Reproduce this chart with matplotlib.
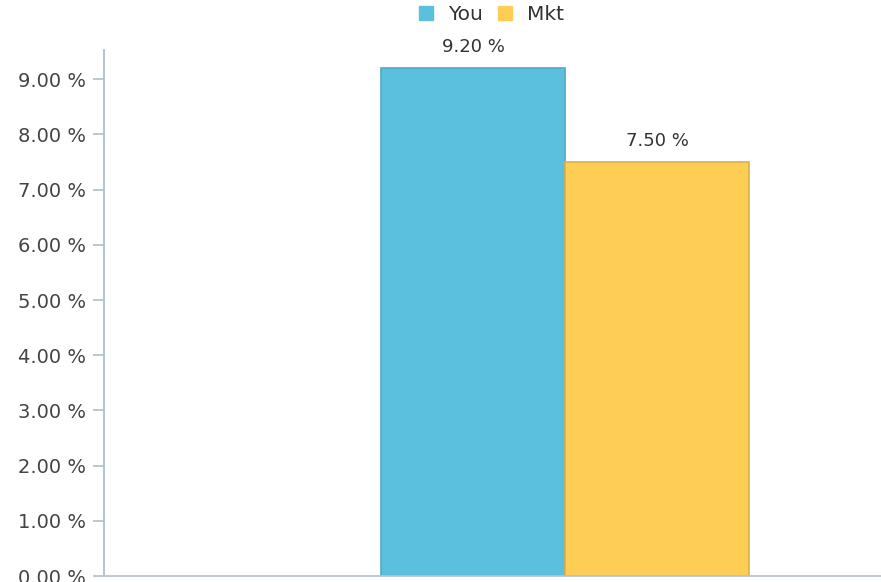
import matplotlib
matplotlib.use("Agg")
import matplotlib.pyplot as plt
from matplotlib.lines import Line2D

# --- datos ---
series = ["You", "Mkt"]
valores = [9.20, 7.50]
colores = ["#5bc0de", "#fdcd56"]
bordes = ["#4fa9c6", "#dcb04a"]
ticks_y = [0, 1, 2, 3, 4, 5, 6, 7, 8, 9]

W, H = 881, 582
fig = plt.figure(figsize=(W / 100, H / 100), dpi=100)
# eje: de x=104 px a x=881 px, de y=50 px a y=576 px
ax = fig.add_axes([104 / W, (H - 576) / H, (W - 104) / W, 526 / H])

ancho = 1.0
posiciones = [-0.5, 0.5]
for x, v, c, b in zip(posiciones, valores, colores, bordes):
    ax.bar(x, v, width=ancho, color=c, edgecolor=b, linewidth=1.2, zorder=2)
    ax.text(x, v + 0.22, f"{v:.2f} %", ha="center", va="bottom",
            fontsize=13, color="#333333")

ax.set_xlim((104 - 565) / 184, (W - 565) / 184)
ax.set_ylim(0, 526 / 55.2)
ax.set_yticks(ticks_y)
ax.set_yticklabels([f"{t:.2f} %" for t in ticks_y], fontsize=14, color="#444444")
ax.set_xticks([])

for lado in ["top", "right"]:
    ax.spines[lado].set_visible(False)
ax.spines["left"].set_color("#aebfc9")
ax.spines["left"].set_linewidth(1.3)
ax.spines["bottom"].set_color("#b8c4cc")
ax.spines["bottom"].set_linewidth(1.3)
ax.tick_params(axis="y", length=8, width=1.2, color="#aebfc9", pad=5)

handles = [Line2D([], [], marker="s", linestyle="none", markersize=10,
                  markerfacecolor=c, markeredgecolor=c) for c in colores]
fig.legend(handles, series, loc="center", bbox_to_anchor=(489 / W, 1 - 15 / H),
           ncol=2, frameon=False, fontsize=14.5, handletextpad=0.5,
           columnspacing=0.45, handlelength=1.2, labelcolor="#333333")

fig.savefig("out.png", dpi=100)
